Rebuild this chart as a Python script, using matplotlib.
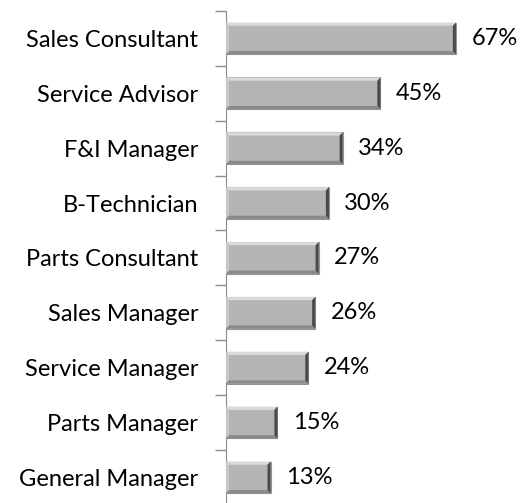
import matplotlib.pyplot as plt
from matplotlib.patches import Polygon

categories = [
    "Sales Consultant",
    "Service Advisor",
    "F&I Manager",
    "B-Technician",
    "Parts Consultant",
    "Sales Manager",
    "Service Manager",
    "Parts Manager",
    "General Manager",
]
values = [67, 45, 34, 30, 27, 26, 24, 15, 13]

plt.rcParams["font.family"] = ["Lato", "DejaVu Sans"]

fig = plt.figure(figsize=(5.27, 5.03), dpi=100)
ax = fig.add_axes([226 / 527, -3.5 / 503, 301 / 527, 495.5 / 503])

n = len(categories)
ypos = list(range(n))
height = 0.58
bars = ax.barh(ypos, values, height=height, color="#b4b4b4",
               edgecolor="#969696", linewidth=0.8, zorder=2)

# bevel look: light top/left, dark bottom/right
for b in bars:
    x0, y0 = b.get_x(), b.get_y()
    w, h = b.get_width(), b.get_height()
    bx = 0.9  # bevel in data units (x)
    by = 0.06  # bevel in data units (y)
    x1, y1 = x0 + w, y0 + h
    top = Polygon([(x0, y0), (x1, y0), (x1 - bx, y0 + by), (x0 + bx, y0 + by)],
                  closed=True, color="#dadada", lw=0, zorder=3)
    left = Polygon([(x0, y0), (x0, y1), (x0 + bx, y1 - by), (x0 + bx, y0 + by)],
                   closed=True, color="#c8c8c8", lw=0, zorder=3)
    bottom = Polygon([(x0, y1), (x1, y1), (x1 - bx, y1 - by), (x0 + bx, y1 - by)],
                     closed=True, color="#8a8a8a", lw=0, zorder=3)
    right = Polygon([(x1, y0), (x1, y1), (x1 - bx, y1 - by), (x1 - bx, y0 + by)],
                    closed=True, color="#4a4a4a", lw=0, zorder=3)
    for p in (top, left, bottom, right):
        ax.add_patch(p)
    ax.text(x1 + 4.5, b.get_y() + h / 2, f"{int(w)}%", va="center",
            ha="left", fontsize=17, color="#000000")

ax.set_xlim(0, 87.7)
ax.set_ylim(n - 0.5 + 0.03, -0.5)
ax.set_yticks(ypos)
ax.set_yticklabels(categories, fontsize=17)
ax.tick_params(axis="y", length=0, pad=20)
ax.set_yticks([i - 0.5 for i in range(n + 1)], minor=True)
ax.tick_params(axis="y", which="minor", length=8, color="#8c8c8c", width=1)
ax.set_xticks([])
for s in ("top", "right", "bottom"):
    ax.spines[s].set_visible(False)
ax.spines["left"].set_color("#8c8c8c")

fig.savefig("out.png", dpi=100)
